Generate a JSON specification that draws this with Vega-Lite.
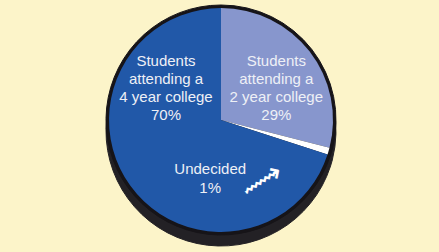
{
  "$schema": "https://vega.github.io/schema/vega-lite/v6.json",
  "width": 439,
  "height": 252,
  "autosize": {"type": "fit", "contains": "padding"},
  "padding": {"top": 0, "left": 3, "right": 0, "bottom": 10},
  "background": "#fcf4c9",
  "config": {"view": {"stroke": null}},
  "data": {
    "values": [
      {"category": "2 year college", "value": 29, "order": 1, "label": "Students\nattending a\n2 year college\n29%"},
      {"category": "Undecided", "value": 1, "order": 2, "label": "Undecided\n1%"},
      {"category": "4 year college", "value": 70, "order": 3, "label": "Students\nattending a\n4 year college\n70%"}
    ]
  },
  "encoding": {
    "theta": {"field": "value", "type": "quantitative", "stack": true},
    "order": {"field": "order", "type": "quantitative"}
  },
  "layer": [
    {"mark": {"type": "arc", "radius": 115, "yOffset": 11, "fill": "#232125", "stroke": "#232125", "strokeWidth": 1}},
    {"mark": {"type": "arc", "radius": 115, "fill": "#161418", "stroke": "#161418", "strokeWidth": 1}},
    {
      "mark": {"type": "arc", "radius": 112},
      "encoding": {
        "color": {
          "field": "category",
          "type": "nominal",
          "scale": {"domain": ["2 year college", "Undecided", "4 year college"], "range": ["#8796cd", "#ffffff", "#2158a8"]},
          "legend": null
        }
      }
    },
    {
      "mark": {"type": "text", "radius": 70, "dx": 0, "dy": -16, "font": "Liberation Sans", "fontSize": 15, "fill": "#eef0f6", "align": "center", "baseline": "middle", "lineBreak": "\n", "lineHeight": 18},
      "encoding": {"text": {"condition": {"test": "datum.category === '2 year college'", "field": "label"}, "value": ""}}
    },
    {
      "mark": {"type": "text", "radius": 0, "dx": -55, "dy": -59, "font": "Liberation Sans", "fontSize": 15, "fill": "#eef0f6", "align": "center", "baseline": "middle", "lineBreak": "\n", "lineHeight": 18},
      "encoding": {"text": {"condition": {"test": "datum.category === '4 year college'", "field": "label"}, "value": ""}}
    },
    {
      "mark": {"type": "text", "radius": 20, "dx": -30, "dy": 43, "font": "Liberation Sans", "fontSize": 15, "fill": "#eef0f6", "align": "center", "baseline": "middle", "lineBreak": "\n", "lineHeight": 19},
      "encoding": {"text": {"condition": {"test": "datum.category === 'Undecided'", "field": "label"}, "value": ""}}
    },
    {
      "mark": {"type": "text", "radius": 0, "dx": 1, "dy": 74, "angle": -33, "font": "DejaVu Sans", "fontSize": 30, "fill": "#ffffff", "align": "center", "baseline": "middle"},
      "encoding": {"text": {"condition": {"test": "datum.category === 'Undecided'", "value": "⟿"}, "value": ""}}
    }
  ]
}
